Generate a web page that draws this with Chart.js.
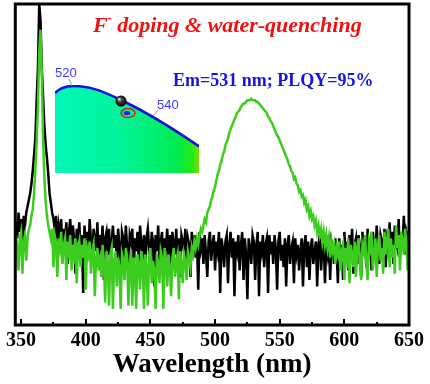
<!DOCTYPE html>
<html>
<head>
<meta charset="utf-8">
<script src="https://cdn.jsdelivr.net/npm/chart.js@4.4.0/dist/chart.umd.min.js"></script>
<style>
  body { margin: 0; background: #fff; }
  #wrap { width: 430px; height: 384px; }
</style>
</head>
<body>
<div id="wrap"><canvas id="chart0" width="430" height="384"></canvas></div>
<script>
"use strict"

// wavelength grid, 346..650 nm every 1 nm (10 values per row)
const wlStart = 346
const wlStep = 1

// F doping & water-quenching sample (green)
const greenPL = [
    28, 24, 17, 27, 29, 16, 26, 28, 20, 27,
    30, 31, 34, 36, 41, 48, 57, 68, 85, 92,
    78, 58, 46, 38, 34, 31, 29, 27, 30, 18,
    28, 26, 15, 27, 24, 29, 19, 25, 27, 14,
    26, 23, 28, 17, 25, 22, 27, 13, 24, 26,
    18, 25, 21, 27, 11, 24, 22, 26, 16, 23,
    25, 9, 21, 24, 17, 22, 15, 25, 20, 7,
    23, 19, 6, 22, 24, 5, 20, 23, 12, 21,
    18, 5, 22, 20, 14, 24, 21, 6, 19, 23,
    6, 21, 18, 5, 22, 19, 11, 23, 20, 5,
    22, 18, 6, 21, 24, 13, 20, 17, 5, 22,
    19, 13, 23, 21, 5, 24, 20, 12, 22, 18,
    9, 21, 24, 15, 20, 22, 8, 23, 19, 13,
    22, 20, 14, 23, 21, 18, 24, 22, 26, 24,
    27, 25, 28, 30, 29, 31, 33, 32, 35, 36,
    37, 39, 40, 42, 43, 45, 47, 48, 50, 51,
    53, 54, 56, 57, 58, 60, 61, 62, 63, 64,
    65, 66, 66.5, 67, 68, 68.5, 69, 69, 69.5, 70,
    70, 70, 70.5, 70, 70, 70, 69.5, 69.5, 69, 68.5,
    68, 67.5, 67, 66.5, 66, 65, 64.5, 63.5, 63, 62,
    61, 60, 59, 58.5, 57.5, 56.5, 55.5, 54.5, 53.5, 52.5,
    51.5, 50, 49.5, 48, 47.5, 45.5, 46, 44, 43.5, 41.5,
    42, 40, 40.5, 38, 39, 36, 37, 34, 35.5, 33,
    34, 31, 32.5, 29, 31, 28, 30, 26, 29, 25,
    28, 24, 27, 21, 26, 23, 25, 19, 24, 22,
    26, 17, 23, 25, 14, 24, 21, 27, 13, 25,
    22, 18, 26, 15, 24, 27, 20, 14, 25, 23,
    28, 19, 14, 26, 24, 29, 17, 22, 27, 15,
    25, 28, 20, 24, 16, 29, 22, 26, 30, 18,
    27, 21, 25, 16, 31, 24, 28, 17, 29, 26,
    22, 30, 25, 17, 28
]

// reference sample (black)
const blackPL = [
    32, 27, 35, 29, 33, 26, 34, 31, 35, 37,
    39, 41, 44, 48, 53, 58, 70, 80, 100, 95,
    80, 71, 62, 56, 52, 47, 41, 38, 35, 33,
    30, 34, 25, 31, 28, 33, 22, 30, 27, 32,
    19, 29, 33, 24, 31, 27, 16, 30, 26, 32,
    23, 28, 10, 31, 25, 29, 21, 33, 26, 19,
    30, 27, 23, 32, 18, 28, 25, 31, 14, 27,
    29, 22, 30, 17, 26, 31, 24, 28, 20, 30,
    25, 13, 29, 27, 21, 31, 24, 18, 28, 26,
    30, 15, 27, 23, 29, 19, 31, 25, 22, 28,
    16, 27, 30, 24, 20, 29, 26, 12, 28, 23,
    31, 19, 26, 29, 14, 27, 24, 30, 21, 28,
    17, 29, 25, 22, 30, 20, 27, 15, 28, 26,
    23, 30, 18, 27, 25, 15, 29, 24, 28, 21,
    26, 11, 29, 24, 27, 19, 28, 22, 15, 26,
    29, 20, 25, 28, 17, 26, 23, 29, 10, 27,
    24, 18, 26, 28, 13, 25, 29, 21, 27, 9,
    26, 23, 28, 17, 25, 29, 14, 27, 22, 8,
    27, 24, 19, 28, 26, 14, 25, 29, 9, 26,
    23, 28, 18, 25, 27, 10, 28, 22, 26, 19,
    28, 24, 11, 26, 29, 20, 25, 18, 27, 12,
    25, 28, 19, 24, 26, 13, 27, 22, 25, 17,
    23, 27, 12, 25, 28, 18, 26, 14, 24, 27,
    19, 23, 26, 12, 25, 28, 17, 24, 27, 13,
    25, 22, 28, 14, 26, 24, 19, 27, 23, 13,
    27, 22, 25, 14, 29, 21, 26, 17, 28, 23,
    30, 16, 25, 27, 19, 28, 24, 15, 29, 22,
    26, 18, 30, 23, 27, 17, 29, 25, 21, 31,
    24, 19, 28, 26, 21, 30, 18, 27, 25, 32,
    22, 29, 19, 31, 26, 24, 33, 21, 28, 25,
    34, 22, 29, 27, 24
]

const xTicks = [350, 375, 400, 425, 450, 475, 500, 525, 550, 575, 600, 625, 650]
const xMin = 345.5
const xMax = 650

const serif = "'Liberation Serif', 'Times New Roman', serif"


function toPoints(values) {
    return values.map((v, i) => ({x: wlStart + i * wlStep, y: v}))
}


function locusPath(ctx) {
    ctx.moveTo(55, 93)
    ctx.quadraticCurveTo(62, 86, 73, 86)
    ctx.bezierCurveTo(95, 86, 110, 95, 125, 102)
    ctx.bezierCurveTo(150, 114, 175, 130, 200, 147)
}


function drawInset(ctx) {
    const L = 55, T = 85, R = 199, B = 173
    ctx.save()
    ctx.beginPath()
    ctx.rect(L, T, R - L, B - T)
    ctx.clip()

    // CIE locus crop
    ctx.beginPath()
    locusPath(ctx)
    ctx.lineTo(R, B)
    ctx.lineTo(L, B)
    ctx.closePath()
    let grad = ctx.createLinearGradient(L, 0, R, 0)
    grad.addColorStop(0, "#00f8b8")
    grad.addColorStop(0.5, "#00f494")
    grad.addColorStop(0.85, "#00ec50")
    grad.addColorStop(0.95, "#22ea14")
    grad.addColorStop(1, "#78e000")
    ctx.fillStyle = grad
    ctx.fill()

    ctx.beginPath()
    locusPath(ctx)
    ctx.strokeStyle = "#1212dd"
    ctx.lineWidth = 2.5
    ctx.stroke()
    ctx.restore()

    // leader lines + labels
    ctx.save()
    ctx.strokeStyle = "#999"
    ctx.lineWidth = 1
    ctx.beginPath()
    ctx.moveTo(69, 79); ctx.lineTo(72, 86)
    ctx.moveTo(158, 110); ctx.lineTo(153, 116)
    ctx.stroke()
    ctx.fillStyle = "#3a3aff"
    ctx.font = "13px 'Liberation Sans', sans-serif"
    ctx.textBaseline = "alphabetic"
    ctx.fillText("520", 55, 77)
    ctx.fillText("540", 157, 109)

    // red ring with blue dot
    ctx.beginPath()
    ctx.ellipse(128, 113, 7, 4.5, 0, 0, Math.PI * 2)
    ctx.strokeStyle = "#ee1111"
    ctx.lineWidth = 1.5
    ctx.stroke()
    ctx.beginPath()
    ctx.ellipse(127, 113, 3.5, 2, 0, 0, Math.PI * 2)
    ctx.fillStyle = "#2020ee"
    ctx.fill()

    // black sphere
    let sg = ctx.createRadialGradient(119, 99, 0.5, 121, 101, 5.5)
    sg.addColorStop(0, "#dddddd")
    sg.addColorStop(0.35, "#444")
    sg.addColorStop(1, "#000")
    ctx.beginPath()
    ctx.arc(121, 101, 5.5, 0, Math.PI * 2)
    ctx.fillStyle = sg
    ctx.fill()
    ctx.restore()
}


function drawTexts(ctx) {
    ctx.save()
    ctx.textBaseline = "alphabetic"
    ctx.fillStyle = "#f01010"
    ctx.font = "italic bold 22px " + serif
    let x = 93
    ctx.fillText("F", x, 32)
    x += ctx.measureText("F").width
    ctx.font = "italic bold 12px " + serif
    ctx.fillText("-", x, 22)
    x += ctx.measureText("-").width
    ctx.font = "italic bold 22px " + serif
    ctx.fillText(" doping & water-quenching", x, 32)

    ctx.fillStyle = "#1414e6"
    ctx.font = "bold 18px " + serif
    ctx.fillText("Em=531 nm; PLQY=95%", 173, 86)
    ctx.restore()
}


const decor = {
    id: "decor",
    beforeDraw(chart) {
        const ctx = chart.ctx
        ctx.save()
        ctx.fillStyle = "#fff"
        ctx.fillRect(0, 0, chart.width, chart.height)
        ctx.restore()
    },
    afterDatasetsDraw(chart) {
        const ctx = chart.ctx
        const area = chart.chartArea
        const sx = chart.scales.x
        ctx.save()
        ctx.strokeStyle = "#000"
        ctx.lineWidth = 2
        ctx.beginPath()
        for (let v of xTicks) {
            let px = Math.round(sx.getPixelForValue(v))
            let len = v % 50 === 0 ? 6 : 3
            ctx.moveTo(px, area.bottom)
            ctx.lineTo(px, area.bottom - len)
        }
        ctx.stroke()
        ctx.lineWidth = 3
        ctx.strokeRect(area.left, area.top, area.right - area.left, area.bottom - area.top)
        ctx.restore()
        drawInset(ctx)
        drawTexts(ctx)
    }
}


function CreateGraph() {
    let chart = document.getElementById("chart0").getContext("2d")
    new Chart(chart, {
        type: "line",
        data: {
            datasets: [
                {
                    label: "F doping",
                    data: toPoints(greenPL),
                    borderColor: "#3ccc1e",
                    borderWidth: 2.5,
                    pointRadius: 0,
                    tension: 0,
                    order: 0
                },
                {
                    label: "reference",
                    data: toPoints(blackPL),
                    borderColor: "#000000",
                    borderWidth: 2.5,
                    pointRadius: 0,
                    tension: 0,
                    order: 1
                }
            ]
        },
        options: {
            responsive: false,
            animation: false,
            devicePixelRatio: 1,
            layout: { padding: { left: 11, right: 18, top: 4, bottom: 10.8 } },
            plugins: {
                legend: { display: false },
                tooltip: { enabled: false }
            },
            scales: {
                x: {
                    type: "linear",
                    min: xMin,
                    max: xMax,
                    afterBuildTicks: (scale) => {
                        scale.ticks = xTicks.map(v => ({value: v}))
                    },
                    grid: { display: false, drawTicks: false },
                    border: { display: false },
                    ticks: {
                        autoSkip: false,
                        maxRotation: 0,
                        padding: 6,
                        color: "#000",
                        font: { family: serif, size: 20, weight: "bold", lineHeight: 1 },
                        callback: (v) => v % 50 === 0 ? String(v) : ""
                    },
                    title: {
                        display: true,
                        text: "Wavelength (nm)",
                        color: "#000",
                        padding: 0,
                        font: { family: serif, size: 27, weight: "bold", lineHeight: 0.6 }
                    }
                },
                y: {
                    display: false,
                    min: 0,
                    max: 100
                }
            }
        },
        plugins: [decor]
    })
}

CreateGraph()
</script>
</body>
</html>
